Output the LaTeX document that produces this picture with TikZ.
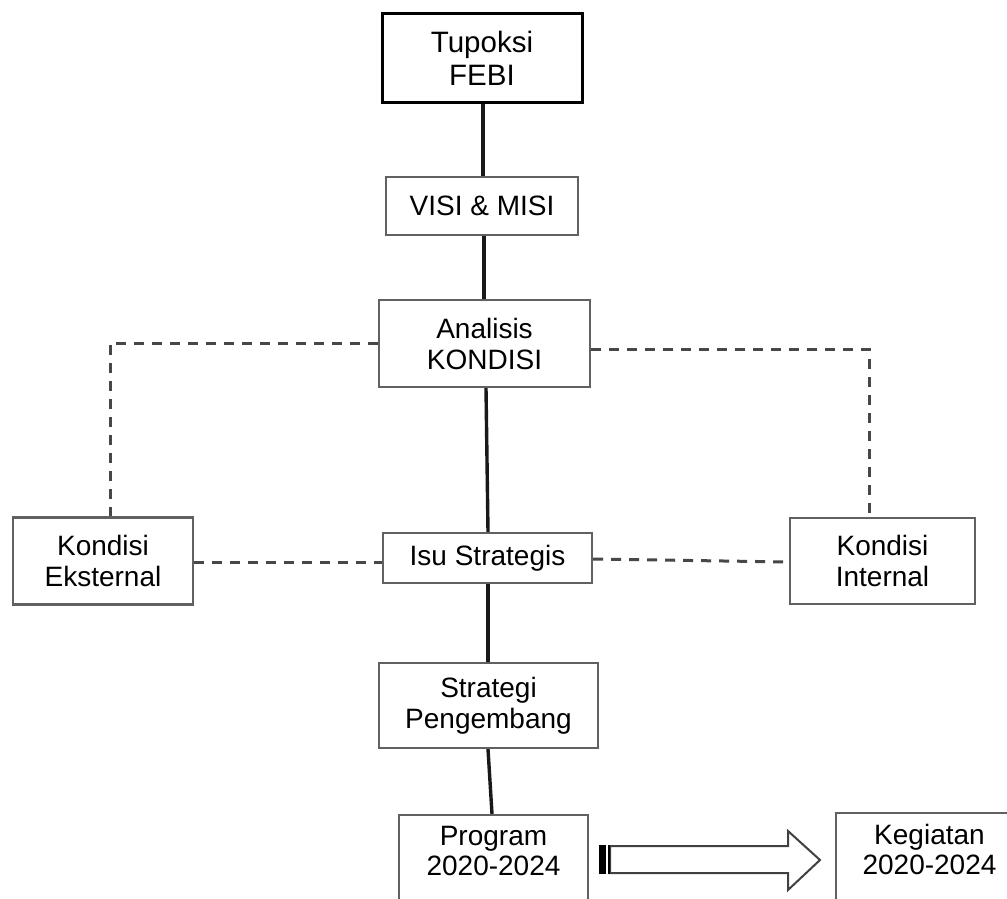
\documentclass[tikz,border=0pt]{standalone}
\usepackage{fontspec}
\setmainfont{Liberation Sans}
\begin{document}
\begin{tikzpicture}[x=1pt,y=-1pt,
  box/.style={draw=black!62, line width=2.2pt, fill=white, rectangle, inner sep=0pt,
    align=center, font=\fontsize{28}{31}\selectfont},
  topbox/.style={box, draw=black, line width=3pt, font=\fontsize{29.5}{33}\selectfont},
  txt/.style={inner sep=0pt, align=center, font=\fontsize{28}{30.5}\selectfont},
  link/.style={draw=black!90, line width=3.4pt},
  dlink/.style={draw=black!72, line width=3pt, dash pattern=on 10pt off 8pt}]
\clip (0,0) rectangle (1007,899);
\fill[white] (0,0) rectangle (1007,899);

\node[topbox, minimum width=200, minimum height=88] (tup) at (482,58) {Tupoksi\\FEBI};
\node[box, minimum width=192, minimum height=58] (visi) at (482,206) {VISI \& MISI};
\node[box, minimum width=211, minimum height=87] (ana) at (484.5,343.5) {Analisis\\KONDISI};
\node[box, minimum width=180, minimum height=87] (eks) at (103,561) {Kondisi\\Eksternal};
\node[box, minimum width=209, minimum height=50] (isu) at (487.5,558) {Isu Strategis};
\node[box, minimum width=185, minimum height=86] (int) at (882.5,561) {Kondisi\\Internal};
\node[box, minimum width=219, minimum height=85] (str) at (488.5,705.5) {Strategi\\Pengembang};
\node[box, minimum width=189, minimum height=120] (prog) at (493.5,875) {};
\node[txt, anchor=north] (progtxt) at ([yshift=-12pt]prog.north) {Program\\2020-2024};
\node[box, minimum width=187, minimum height=120] (keg) at (929.5,873) {};
\node[txt, anchor=north] (kegtxt) at ([yshift=-12pt]keg.north) {Kegiatan\\2020-2024};

% solid connectors
\draw[link] (tup.south -| 483,0) -- (visi.north -| 483,0);
\draw[link] (visi.south -| 484,0) -- (ana.north -| 484,0);
\draw[link] (ana.south -| 486,0) -- (isu.north -| 488,0);
\draw[link] (isu.south -| 488,0) -- (str.north -| 488,0);
\draw[link] (str.south -| 488,0) -- (prog.north -| 492,0);

% dashed connectors
\coordinate (cl) at (110,343);
\coordinate (cr) at (869,349);
\draw[dlink] (ana.west |- cl) -- (cl) -- (cl |- eks.north);
\draw[dlink] (ana.east |- cr) -- (cr) -- (cr |- int.north);
\draw[dlink] (eks.east |- 0,562) -- (isu.west |- 0,562);
\draw[dlink] (isu.east |- 0,559) -- (int.west |- 0,562);

% block arrow
\coordinate (at) at (820,860);
\draw[draw=black!75, line width=2pt, fill=white]
  (610,846) -- (788,846) -- (788,831) -- (at) -- (788,890) -- (788,873) -- (610,873) -- cycle;
\fill[black] (599,845) rectangle (606,874);
\draw[black, line width=1.6pt] (609,845) -- (609,874);
\end{tikzpicture}
\end{document}
